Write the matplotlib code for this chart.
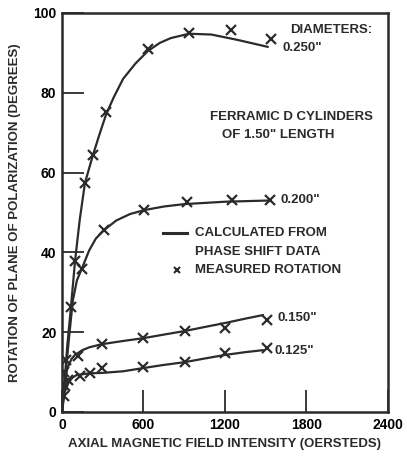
import numpy as np
import matplotlib
matplotlib.use("Agg")
import matplotlib.pyplot as plt

# measured rotation (x marks)
x_250 = [66, 96, 169, 228, 324, 633, 935, 1244, 1538]
y_250 = [26.3, 37.8, 57.4, 64.4, 75.2, 91, 95, 95.7, 93.5]
x_200 = [147, 310, 604, 920, 1251, 1531]
y_200 = [35.8, 45.6, 50.6, 52.6, 53.1, 53.1]
x_150 = [15, 30, 118, 294, 596, 905, 1200, 1509]
y_150 = [10, 13, 14, 17, 18.5, 20.3, 21, 23]
x_125 = [12, 25, 45, 133, 206, 294, 596, 905, 1200, 1509]
y_125 = [4, 6.5, 8, 9.0, 9.8, 11, 11.3, 12.5, 14.8, 16]

# calculated curves (from phase shift data)
cx_250 = [0, 15, 40, 66, 96, 130, 169, 228, 280, 324, 380, 450, 540, 633, 720, 800, 935,
          1100, 1300, 1516]
cy_250 = [0, 6, 17, 26.3, 37.8, 48, 57.4, 64.4, 70, 74.5, 78.8, 83.5, 87.3, 90.5, 92.5,
          93.7, 94.8, 94.6, 93.2, 91.5]
cx_200 = [0, 20, 50, 80, 110, 147, 200, 250, 310, 400, 500, 605, 750, 900, 1200, 1520]
cy_200 = [0, 7, 18, 28, 33, 36, 40.5, 43.5, 45.6, 48, 49.6, 50.6, 51.5, 52.1, 52.7, 53]
cx_150 = [0, 15, 40, 70, 96, 150, 200, 294, 450, 599, 750, 905, 1050, 1200, 1350, 1480]
cy_150 = [0, 6, 11, 13.3, 14.3, 15.5, 16.2, 17, 17.8, 18.5, 19.4, 20.3, 21.3, 22.3, 23.4, 24.3]
cx_125 = [0, 20, 50, 80, 110, 206, 294, 450, 596, 750, 905, 1050, 1200, 1350, 1480]
cy_125 = [0, 5, 7.5, 8.7, 9.3, 9.7, 9.8, 10.2, 11, 11.8, 12.5, 13.4, 14.3, 15, 15.5]

xticks = [0, 600, 1200, 1800, 2400]
yticks = [0, 20, 40, 60, 80, 100]

ink = "#2b2b2b"
fnt = "Liberation Sans"

fig = plt.figure(figsize=(4.07, 4.59), dpi=100)
ax = fig.add_axes([0.1523, 0.1024, 0.801, 0.8693])

for cx, cy in [(cx_250, cy_250), (cx_200, cy_200), (cx_150, cy_150), (cx_125, cy_125)]:
    ax.plot(cx, cy, color=ink, lw=1.6, solid_capstyle="round", solid_joinstyle="round")
for mx, my in [(x_250, y_250), (x_200, y_200), (x_150, y_150), (x_125, y_125)]:
    ax.plot(mx, my, ls="none", marker="x", ms=6.5, mew=1.6, color=ink)

ax.set_xlim(0, 2400)
ax.set_ylim(0, 100)
ax.set_xticks(xticks)
ax.set_yticks(yticks)
tk = dict(family=fnt, weight="bold", size=10)
ax.set_xticklabels([str(t) for t in xticks], **tk)
ax.set_yticklabels([str(t) for t in yticks], **tk)
ax.tick_params(direction="in", length=16, width=1.3, color=ink, pad=4)
for s in ax.spines.values():
    s.set_linewidth(1.8)
    s.set_color(ink)

lab = dict(family=fnt, weight="bold", size=9.5, color=ink)
ax.set_xlabel("AXIAL MAGNETIC FIELD INTENSITY (OERSTEDS)", labelpad=5, **lab)
ax.set_ylabel("ROTATION OF PLANE OF POLARIZATION (DEGREES)", labelpad=9, **lab)

kw = dict(family=fnt, weight="bold", size=9.5, color=ink, va="center", ha="left")
ax.text(1679, 95.7, "DIAMETERS:", **kw)
ax.text(1620, 91.2, '0.250"', **kw)
ax.text(1090, 73.9, "FERRAMIC D CYLINDERS", **kw)
ax.text(1178, 69.4, 'OF 1.50" LENGTH', **kw)
ax.text(1605, 53.1, '0.200"', **kw)
ax.text(1583, 23.6, '0.150"', **kw)
ax.text(1568, 15.3, '0.125"', **kw)

# legend drawn by hand
ax.plot([744, 920], [44.9, 44.9], color=ink, lw=2.2)
ax.plot([847], [35.6], ls="none", marker="x", ms=5, mew=1.5, color=ink)
ax.text(979, 44.9, "CALCULATED FROM", **kw)
ax.text(979, 40.1, "PHASE SHIFT DATA", **kw)
ax.text(979, 35.6, "MEASURED ROTATION", **kw)

fig.savefig("out.png", dpi=100, facecolor="white")
